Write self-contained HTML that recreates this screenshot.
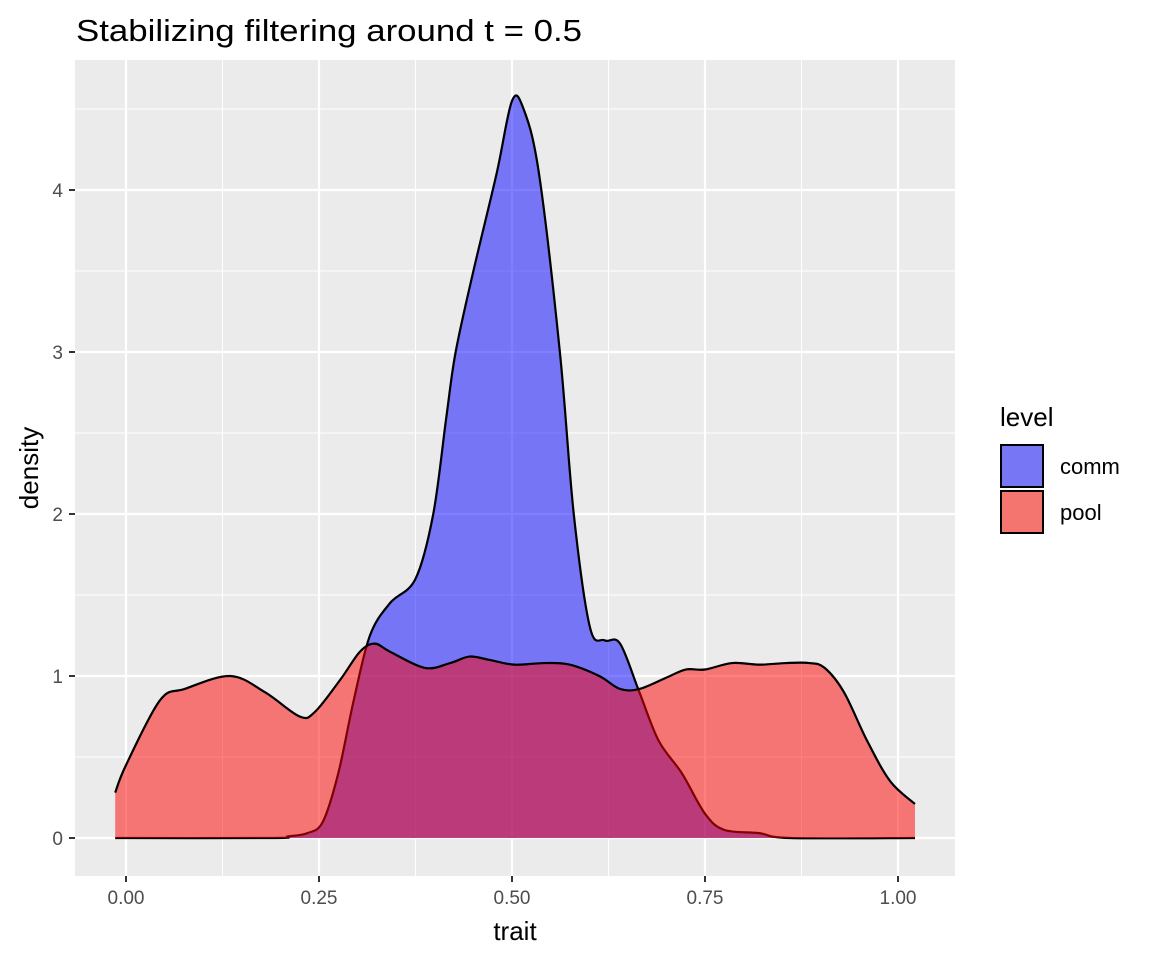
<!DOCTYPE html>
<html><head><meta charset="utf-8"><style>
body{margin:0;background:#fff;font-family:"Liberation Sans",sans-serif}
</style></head><body>
<svg width="1152" height="960" xmlns="http://www.w3.org/2000/svg">
<rect width="1152" height="960" fill="#fff"/>
<text x="76" y="41" font-size="31" textLength="506" lengthAdjust="spacingAndGlyphs" fill="#000">Stabilizing filtering around t = 0.5</text>
<rect x="75" y="60" width="880" height="816" fill="#ebebeb"/>
<g id="grid"></g>
<g id="marks"></g>
<g id="axes"></g>
<text x="515" y="940" font-size="26" text-anchor="middle">trait</text>
<text transform="translate(38,468) rotate(-90)" font-size="26" text-anchor="middle">density</text>
<g>
<text x="1000" y="426" font-size="26">level</text>
<rect x="1001" y="445" width="42" height="42" fill="#7777f5" stroke="#000" stroke-width="2"/>
<text x="1060" y="474" font-size="22">comm</text>
<rect x="1001" y="491" width="42" height="42" fill="#f47570" stroke="#000" stroke-width="2"/>
<text x="1060" y="520" font-size="22">pool</text>
</g>
</svg>
<script>
const xTicks=[0,0.25,0.5,0.75,1.0];
const xTickLabels=["0.00","0.25","0.50","0.75","1.00"];
const yTicks=[0,1,2,3,4];
const yTickLabels=["0","1","2","3","4"];
const poolX=[-0.014,0.0,0.044,0.076,0.135,0.18,0.225,0.245,0.278,0.303,0.322,0.342,0.387,0.42,0.445,0.47,0.503,0.542,0.575,0.613,0.64,0.665,0.70,0.725,0.75,0.785,0.82,0.855,0.885,0.905,0.93,0.96,0.99,1.022];
const poolY=[0.28,0.45,0.85,0.92,1.0,0.9,0.75,0.78,0.98,1.15,1.2,1.15,1.05,1.08,1.12,1.1,1.07,1.08,1.07,1.0,0.92,0.92,0.99,1.04,1.04,1.08,1.07,1.08,1.08,1.05,0.9,0.6,0.35,0.21];
const commX=[-0.014,0.19,0.21,0.235,0.255,0.275,0.295,0.316,0.342,0.375,0.398,0.415,0.427,0.45,0.48,0.50,0.515,0.535,0.562,0.58,0.601,0.62,0.64,0.665,0.69,0.72,0.75,0.775,0.82,0.86,1.022];
const commY=[0,0,0.01,0.03,0.1,0.4,0.85,1.25,1.45,1.6,2.0,2.6,3.0,3.5,4.1,4.55,4.5,4.1,3.0,2.0,1.3,1.22,1.2,0.9,0.6,0.4,0.15,0.05,0.03,0,0];
const NS="http://www.w3.org/2000/svg";
const X=v=>126+v*772, Y=v=>838-v*162;
function mk(tag,parent,attrs){const e=document.createElementNS(NS,tag);for(const k in attrs)e.setAttribute(k,attrs[k]);parent.appendChild(e);return e;}
const grid=document.getElementById('grid'),marks=document.getElementById('marks'),axes=document.getElementById('axes');
for(let i=0;i<xTicks.length-1;i++){const m=(xTicks[i]+xTicks[i+1])/2;const l=mk('line',grid,{x1:X(m),x2:X(m),y1:60,y2:876,stroke:'#fff','stroke-width':1});

}
for(let i=0;i<yTicks.length;i++){const m=yTicks[i]+0.5;if(Y(m)<60)continue;const l=mk('line',grid,{x1:75,x2:955,y1:Y(m),y2:Y(m),stroke:'#fff','stroke-width':1});

}
xTicks.forEach((t,i)=>{const l=mk('line',grid,{x1:X(t),x2:X(t),y1:60,y2:876,stroke:'#fff','stroke-width':2.2});


const tk=mk('line',axes,{x1:X(t),x2:X(t),y1:876,y2:882,stroke:'#333','stroke-width':2});


const tx=mk('text',axes,{x:X(t),y:904,'font-size':19,'text-anchor':'middle',fill:'#4d4d4d'});tx.textContent=xTickLabels[i];

});
yTicks.forEach((t,i)=>{const l=mk('line',grid,{x1:75,x2:955,y1:Y(t),y2:Y(t),stroke:'#fff','stroke-width':2.2});


const tk=mk('line',axes,{x1:69,x2:75,y1:Y(t),y2:Y(t),stroke:'#333','stroke-width':2});


const tx=mk('text',axes,{x:63,y:Y(t)+7,'font-size':19,'text-anchor':'end',fill:'#4d4d4d'});tx.textContent=yTickLabels[i];

});
function smooth(xs,ys){const p=xs.map((x,i)=>[X(x),Y(ys[i])]);let d='M'+p[0][0]+','+p[0][1];
for(let i=0;i<p.length-1;i++){const p0=p[Math.max(0,i-1)],p1=p[i],p2=p[i+1],p3=p[Math.min(p.length-1,i+2)];
const c1=[p1[0]+(p2[0]-p0[0])/6,p1[1]+(p2[1]-p0[1])/6],c2=[p2[0]-(p3[0]-p1[0])/6,p2[1]-(p3[1]-p1[1])/6];
d+=`C${c1[0]},${c1[1]} ${c2[0]},${c2[1]} ${p2[0]},${p2[1]}`;}return d;}
function series(xs,ys,color,name){const line=smooth(xs,ys);
const a=mk('path',marks,{d:line+`L${X(xs[xs.length-1])},${Y(0)}L${X(xs[0])},${Y(0)}Z`,fill:color,'fill-opacity':0.5});


const l=mk('path',marks,{d:line,fill:'none',stroke:'#000','stroke-width':2.2});

}
series(commX,commY,'#0000ff','comm');
series(poolX,poolY,'#ff0000','pool');
</script>
</body></html>
